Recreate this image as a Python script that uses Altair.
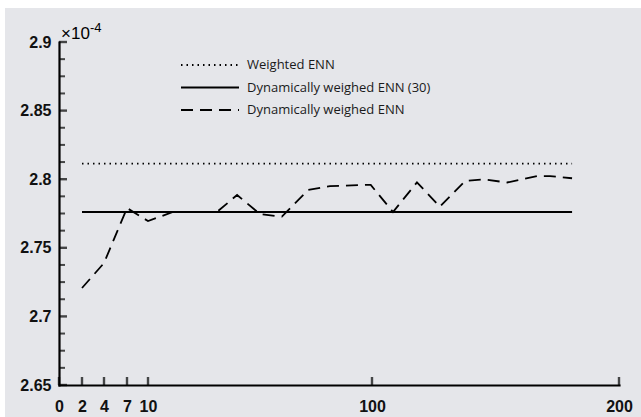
import altair as alt
import pandas as pd

# ---- data (y in units of 1e-4) ----
SERIES = ["Weighted ENN", "Dynamically weighed ENN (30)", "Dynamically weighed ENN"]

dyn_x = [2, 4, 7, 10, 20, 37.7, 45.8, 55.0, 63.8, 74.3, 83.1, 97.2, 99.5,
         108.5, 118.2, 127.5, 137.7, 144.9, 154.7, 166.8, 172.1, 181]
dyn_y = [2.7207, 2.7389, 2.7790, 2.7695, 2.7761, 2.7761, 2.7885, 2.7746, 2.7727,
         2.7921, 2.7950, 2.7958, 2.7958, 2.7761, 2.7977, 2.7800, 2.7987, 2.7999,
         2.7976, 2.8023, 2.8023, 2.8007]
const_x = [2, 181]
weighted_y = [2.8114, 2.8114]
dyn30_y = [2.7761, 2.7761]

x_tick_values = [0, 2, 4, 7, 10, 100, 200]
y_major_ticks = [2.65, 2.70, 2.75, 2.80, 2.85, 2.90]
y_minor_ticks = [2.6625, 2.675, 2.6875, 2.7125, 2.725, 2.7375, 2.7625, 2.775,
                 2.7875, 2.8125, 2.825, 2.8375, 2.8625, 2.875, 2.8875]

rows = []
for x, y in zip(const_x, weighted_y):
    rows.append({"series": SERIES[0], "x": x, "y": y})
for x, y in zip(const_x, dyn30_y):
    rows.append({"series": SERIES[1], "x": x, "y": y})
for x, y in zip(dyn_x, dyn_y):
    rows.append({"series": SERIES[2], "x": x, "y": y})
df = pd.DataFrame(rows)

W, H = 560, 343
BG = "#e5e6ea"

x_scale = alt.Scale(domain=x_tick_values, range=[0, 23, 45, 68, 89, 313, 560],
                    nice=False, zero=False)
y_scale = alt.Scale(domain=[2.65, 2.9], nice=False, zero=False)

axis_common = dict(ticks=False, tickSize=0, domainColor="black", domainWidth=2.2,
                   domainCap="square", labelFont="Liberation Sans", labelFontSize=16,
                   labelFontWeight="bold", labelColor="#111111", title=None,
                   grid=False, zindex=1, labelFlush=False, labelOverlap=False)
x_axis = alt.Axis(values=x_tick_values, format="d", labelPadding=13, **axis_common)
y_axis = alt.Axis(values=y_major_ticks, format=".3~g", labelPadding=8, **axis_common)

X = alt.X("x:Q", scale=x_scale, axis=x_axis)
Y = alt.Y("y:Q", scale=y_scale, axis=y_axis)

lines = alt.Chart(df).mark_line(color="black", strokeWidth=1.8).encode(
    x=X,
    y=Y,
    strokeDash=alt.StrokeDash(
        "series:N",
        scale=alt.Scale(domain=SERIES, range=[[1.5, 4], [1, 0], [12, 7]]),
        legend=alt.Legend(
            title=None, orient="none", legendX=121, legendY=15,
            symbolType="stroke", symbolSize=3364, symbolStrokeWidth=1.8,
            symbolStrokeColor="black", clipHeight=16, rowPadding=6.5,
            labelOffset=7, labelFont="Open Sans", labelFontSize=13,
            labelColor="#1a1a1a", labelLimit=400, padding=0,
        ),
    ),
)

one = alt.Data(values=[{}])

# inward-pointing tick marks (the reference draws them inside the frame)
y_major = alt.Chart(pd.DataFrame({"y": y_major_ticks})).mark_tick(
    color="black", orient="horizontal", size=8, thickness=2.4).encode(
    y=Y, x=alt.value(4))
y_minor = alt.Chart(pd.DataFrame({"y": y_minor_ticks})).mark_tick(
    color="black", orient="horizontal", size=6, thickness=2).encode(
    y=Y, x=alt.value(3))
x_ticks = alt.Chart(pd.DataFrame({"x": x_tick_values})).mark_tick(
    color="black", orient="vertical", size=8, thickness=2.4).encode(
    x=X, y=alt.value(H - 4))

exp_base = alt.Chart(one).mark_text(
    text="×10", align="left", baseline="alphabetic", font="Liberation Sans",
    fontSize=17, color="black").encode(x=alt.value(2), y=alt.value(-3))
exp_sup = alt.Chart(one).mark_text(
    text="-4", align="left", baseline="alphabetic", font="Liberation Sans",
    fontSize=13, color="black").encode(x=alt.value(31), y=alt.value(-10))

white_top = alt.Chart(one).mark_rect(color="white").encode(
    x=alt.value(-59), x2=alt.value(582), y=alt.value(-42), y2=alt.value(-34))
white_left = alt.Chart(one).mark_rect(color="white").encode(
    x=alt.value(-59), x2=alt.value(-54), y=alt.value(-42), y2=alt.value(H + 32))

chart = alt.layer(
    white_top, white_left, y_minor, y_major, x_ticks, lines, exp_base, exp_sup
).properties(
    width=W, height=H,
    padding={"left": 59, "top": 42, "right": 22, "bottom": 32},
    autosize=alt.AutoSizeParams(type="none"),
    background=BG,
).configure_view(stroke=None)

chart.save("out.html", embed_options={"renderer": "svg", "actions": False})
